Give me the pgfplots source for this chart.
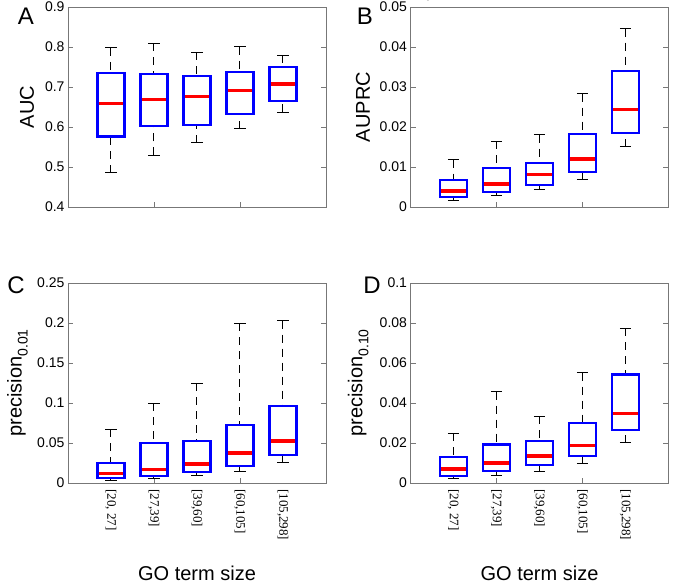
\documentclass[border=0pt]{standalone}
\usepackage{fontspec}
\setmainfont{Liberation Sans}
\newfontfamily\timesfont{Liberation Serif}
\usepackage{pgfplots}
\pgfplotsset{compat=1.18}
\definecolor{boxblue}{HTML}{0000FF}
\definecolor{medred}{HTML}{FF0000}
\definecolor{framegray}{HTML}{777777}

% one box: position, lower whisker, lower quartile, median, upper quartile, upper whisker
\newcommand{\bx}[6]{%
  \pgfmathsetmacro\boxL{#1-0.315}\pgfmathsetmacro\boxR{#1+0.315}%
  \pgfmathsetmacro\capL{#1-0.13}\pgfmathsetmacro\capR{#1+0.13}%
  \addplot[whisk] coordinates {(#1,#2) (#1,#3)};
  \addplot[whisk] coordinates {(#1,#6) (#1,#5)};
  \addplot[wcap] coordinates {(\capL,#2) (\capR,#2)};
  \addplot[wcap] coordinates {(\capL,#6) (\capR,#6)};
  \addplot[bxline] coordinates {(#1,#3) (\boxR,#3) (\boxR,#5) (\boxL,#5) (\boxL,#3)} --cycle;
  \addplot[medline] coordinates {(\boxL,#4) (\boxR,#4)};
}

\pgfplotsset{
  whisk/.style={black, line width=1pt, dash pattern=on 8pt off 6pt},
  wcap/.style={black, line width=1pt},
  bxline/.style={boxblue, line width=2.2pt, line join=miter},
  medline/.style={medred, line width=3.6pt, shorten <=1.1pt, shorten >=1.1pt},
  panel/.style={
    scale only axis, width=258pt, height=200pt,
    xmin=0, xmax=6, clip=false,
    axis line style={framegray, line width=0.7pt},
    tick align=inside, ytick pos=both, xtick pos=left,
    major tick length=5pt,
    tick style={framegray, line width=0.7pt},
    xtick={2,4}, xticklabels={},
    yticklabel style={font=\fontsize{14}{14}\selectfont},
    xticklabel style={font=\fontsize{13}{13}\selectfont\timesfont, rotate=-90, anchor=west, inner xsep=6pt},
    ylabel style={font=\fontsize{20}{20}\selectfont, anchor=center},
    xlabel style={font=\fontsize{20}{20}\selectfont, at={(axis description cs:0.5,0)}, anchor=center, yshift=-90pt},
  },
  golabels/.style={
    extra x ticks={1,2,3,4,5},
    extra x tick labels={{[20, 27]},{[27,39]},{[39,60]},{[60,105]},{[105,298]}},
    extra x tick style={major tick length=0pt},
    xlabel={GO term size},
  },
}

\begin{document}
\begin{tikzpicture}
\useasboundingbox (0pt,0pt) rectangle (673pt,584pt);

% A
\begin{axis}[panel, at={(68pt,377pt)}, anchor=south west,
  ymin=0.4, ymax=0.9, ytick={0.4,0.5,0.6,0.7,0.8,0.9},
  yticklabels={0.4,0.5,0.6,0.7,0.8,0.9},
  ylabel={AUC}, ylabel style={at={(axis description cs:-0.159,0.5)}}]
\bx{1}{0.485}{0.576}{0.659}{0.734}{0.798}
\bx{2}{0.529}{0.602}{0.669}{0.733}{0.809}
\bx{3}{0.560}{0.604}{0.676}{0.728}{0.787}
\bx{4}{0.596}{0.633}{0.691}{0.738}{0.801}
\bx{5}{0.637}{0.664}{0.708}{0.749}{0.779}
\end{axis}

% B
\begin{axis}[panel, at={(410.5pt,377pt)}, anchor=south west,
  ymin=0, ymax=0.05, ytick={0,0.01,0.02,0.03,0.04,0.05},
  yticklabels={0,0.01,0.02,0.03,0.04,0.05},
  ylabel={AUPRC}, ylabel style={at={(axis description cs:-0.184,0.5)}}]
\bx{1}{0.00167}{0.00242}{0.0040}{0.00675}{0.01183}
\bx{2}{0.00275}{0.00375}{0.00575}{0.00967}{0.01642}
\bx{3}{0.00425}{0.0055}{0.00808}{0.01108}{0.01808}
\bx{4}{0.00683}{0.00867}{0.0120}{0.01825}{0.02833}
\bx{5}{0.01508}{0.0185}{0.02433}{0.03408}{0.04458}
\end{axis}

% C
\begin{axis}[panel, golabels, at={(68pt,101pt)}, anchor=south west,
  ymin=0, ymax=0.25, ytick={0,0.05,0.1,0.15,0.2,0.25},
  yticklabels={0,0.05,0.1,0.15,0.2,0.25},
  ylabel={precision\raisebox{-0.3em}{\fontsize{14}{14}\selectfont 0.01}},
  ylabel style={at={(axis description cs:-0.196,0.5)}}]
\bx{1}{0.0033}{0.0059}{0.0117}{0.0247}{0.0673}
\bx{2}{0.0054}{0.0088}{0.0167}{0.0497}{0.0999}
\bx{3}{0.0088}{0.0138}{0.0238}{0.0527}{0.1250}
\bx{4}{0.0138}{0.0209}{0.0372}{0.0727}{0.2000}
\bx{5}{0.0251}{0.0347}{0.0527}{0.0966}{0.2030}
\end{axis}

% D
\begin{axis}[panel, golabels, at={(410.5pt,101pt)}, anchor=south west,
  ymin=0, ymax=0.1, ytick={0,0.02,0.04,0.06,0.08,0.1},
  yticklabels={0,0.02,0.04,0.06,0.08,0.1},
  ylabel={precision\raisebox{-0.3em}{\fontsize{14}{14}\selectfont 0.10}},
  ylabel style={at={(axis description cs:-0.203,0.5)}}]
\bx{1}{0.0020}{0.0035}{0.0070}{0.0130}{0.0249}
\bx{2}{0.0035}{0.0059}{0.0099}{0.0192}{0.0457}
\bx{3}{0.0055}{0.0089}{0.0135}{0.0211}{0.0334}
\bx{4}{0.0099}{0.0134}{0.0187}{0.0299}{0.0552}
\bx{5}{0.0201}{0.0266}{0.0348}{0.0542}{0.0774}
\end{axis}

\node[font=\fontsize{24}{24}\selectfont] at (26pt,568pt) {A};
\node[font=\fontsize{24}{24}\selectfont] at (365pt,568pt) {B};
\node[font=\fontsize{24}{24}\selectfont] at (16pt,299pt) {C};
\node[font=\fontsize{24}{24}\selectfont] at (372pt,299pt) {D};
\end{tikzpicture}
\end{document}
